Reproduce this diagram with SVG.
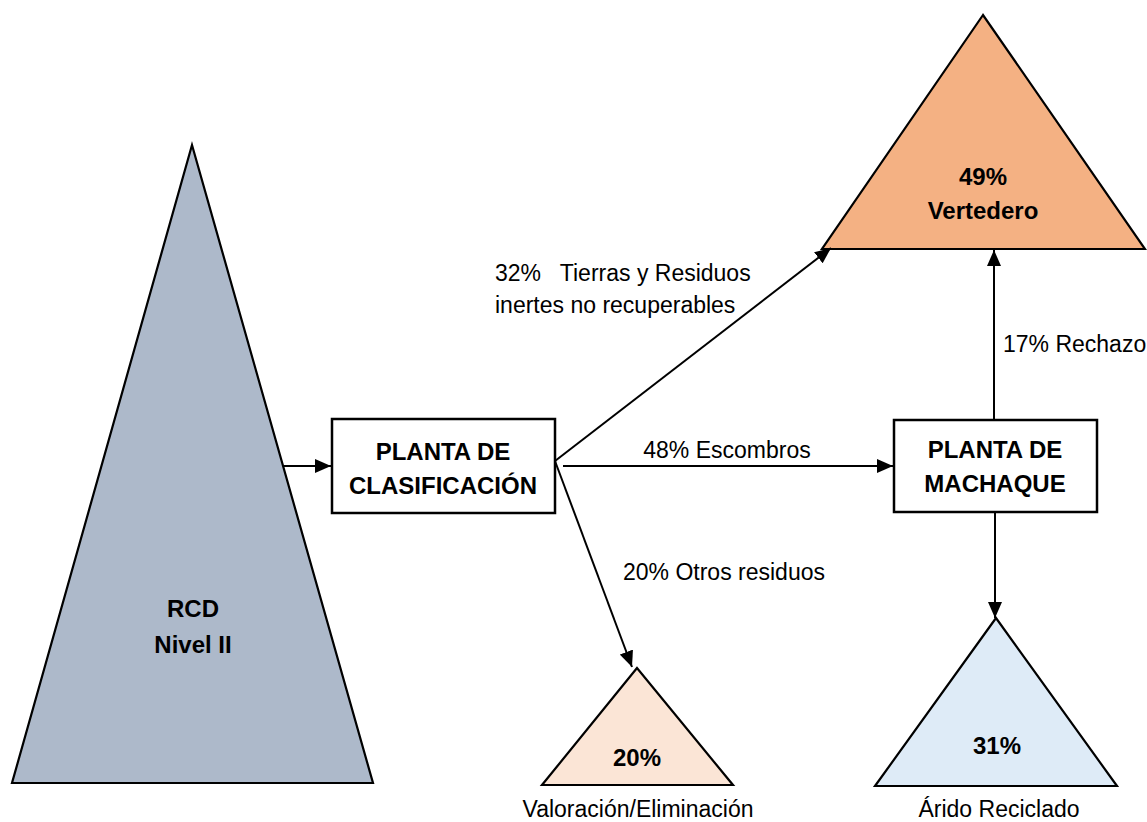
<svg xmlns="http://www.w3.org/2000/svg" width="1147" height="822" viewBox="0 0 1147 822">
  <style>
    .tri { stroke: #000; stroke-width: 2.2; stroke-linejoin: miter; }
    .box { fill: #fff; stroke: #000; stroke-width: 2.5; }
    .bold { font-family: "Liberation Sans", Arial, sans-serif; font-weight: bold; font-size: 24px; fill: #000; text-anchor: middle; }
    .lbl { font-family: "Liberation Sans", Arial, sans-serif; font-size: 23px; fill: #000; }
    .edge { fill: none; stroke: #000; stroke-width: 2; }
  </style>
  <defs>
    <marker id="arrow" markerUnits="userSpaceOnUse" markerWidth="16" markerHeight="14" refX="16" refY="7" orient="auto">
      <path d="M0,0 L16,7 L0,14 Z" fill="#000"/>
    </marker>
  </defs>
  <rect width="1147" height="822" fill="#fff"/>

  <!-- source pile -->
  <g id="rcd">
    <polygon class="tri" points="192,145 12,783 373,783" fill="#ADB9CA"/>
    <text class="bold" x="193" y="617" font-size="25">RCD</text>
    <text class="bold" x="193" y="653" font-size="25">Nivel II</text>
  </g>

  <!-- sorting plant -->
  <g id="planta-clasificacion">
    <rect class="box" x="332" y="419" width="223" height="94"/>
    <text class="bold" x="443" y="460">PLANTA DE</text>
    <text class="bold" x="443" y="494" font-size="23">CLASIFICACIÓN</text>
  </g>

  <!-- crushing plant -->
  <g id="planta-machaque">
    <rect class="box" x="894" y="420" width="203" height="92"/>
    <text class="bold" x="995" y="458">PLANTA DE</text>
    <text class="bold" x="995" y="492">MACHAQUE</text>
  </g>

  <!-- landfill -->
  <g id="vertedero">
    <polygon class="tri" points="983,15 822,249 1145,249" fill="#F4B183"/>
    <text class="bold" x="983" y="185">49%</text>
    <text class="bold" x="983" y="219">Vertedero</text>
  </g>

  <!-- recovery / disposal -->
  <g id="valoracion">
    <polygon class="tri" points="637,668 542,785 733,785" fill="#FBE5D6"/>
    <text class="bold" x="637" y="766">20%</text>
    <text class="lbl" x="638" y="817" font-size="24" text-anchor="middle">Valoración/Eliminación</text>
  </g>

  <!-- recycled aggregate -->
  <g id="arido">
    <polygon class="tri" points="996,618 875,786 1117,786" fill="#DEEBF7"/>
    <text class="bold" x="997" y="754">31%</text>
    <text class="lbl" x="999" y="817" font-size="24" text-anchor="middle">Árido Reciclado</text>
  </g>

  <!-- flows -->
  <g id="connectors">
    <line class="edge" x1="283" y1="466" x2="331" y2="466" marker-end="url(#arrow)"/>
    <line class="edge" x1="555" y1="461" x2="831" y2="248" marker-end="url(#arrow)"/>
    <line class="edge" x1="563" y1="466" x2="893" y2="466" marker-end="url(#arrow)"/>
    <line class="edge" x1="555" y1="461" x2="632" y2="667" marker-end="url(#arrow)"/>
    <line class="edge" x1="994" y1="420" x2="994" y2="250" marker-end="url(#arrow)"/>
    <line class="edge" x1="995" y1="512" x2="995" y2="618" marker-end="url(#arrow)"/>
  </g>

  <!-- flow labels -->
  <g id="labels">
    <text class="lbl" x="495" y="281" xml:space="preserve">32%   Tierras y Residuos</text>
    <text class="lbl" x="495" y="313">inertes no recuperables</text>
    <text class="lbl" x="727" y="458" text-anchor="middle">48% Escombros</text>
    <text class="lbl" x="623" y="580">20% Otros residuos</text>
    <text class="lbl" x="1003" y="352" font-size="22">17% Rechazo</text>
  </g>
</svg>
